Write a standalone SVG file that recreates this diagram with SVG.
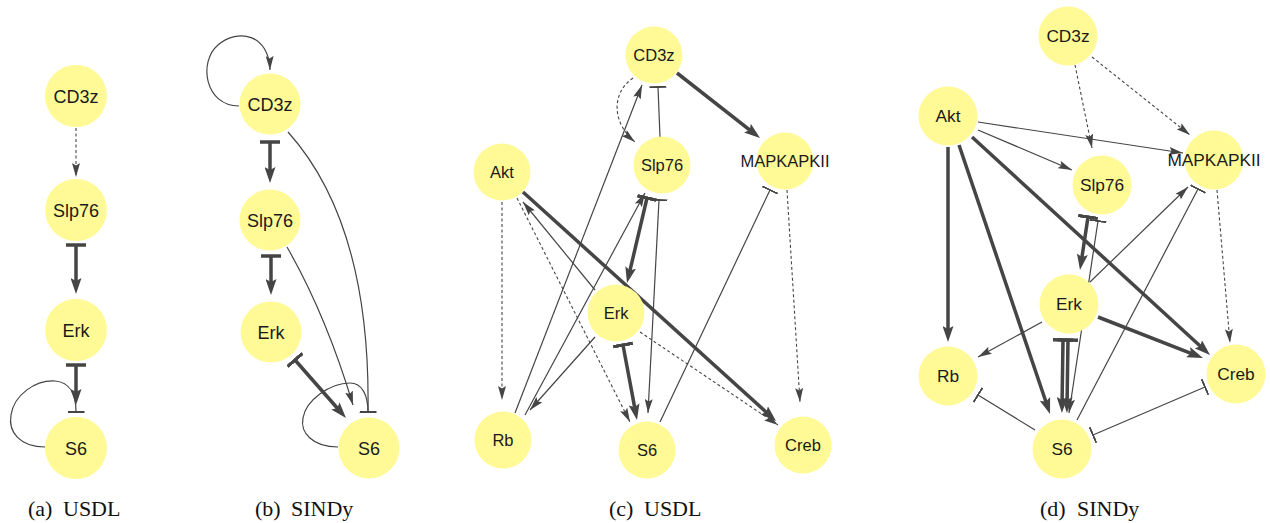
<svg xmlns="http://www.w3.org/2000/svg" width="1270" height="523" viewBox="0 0 1270 523">
  <style>
    .e { fill: none; stroke: #454545; stroke-width: 1.2; }
    .thick { stroke-width: 3.5; }
    .dash { stroke-width: 1.1; stroke-dasharray: 3 2.5; }
    .n circle { fill: #fffa96; }
    .n text { font-family: "Liberation Sans", Arial, sans-serif; text-anchor: middle; fill: #1a1a1a; }
    .pa text, .pb text { font-size: 18px; }
    .pc text { font-size: 16.5px; }
    .pd text { font-size: 17.3px; }
    .cap { font-family: "Liberation Serif", "Times New Roman", serif; font-size: 22px; fill: #111; }
  </style>
  <defs>
    <marker id="arr" markerUnits="userSpaceOnUse" viewBox="0 0 14 8" markerWidth="14" markerHeight="8" refX="14" refY="4" orient="auto">
      <path d="M0,0 L14,4 L0,8 L2.5,4 z" fill="#454545"/>
    </marker>
    <marker id="arrT" markerUnits="userSpaceOnUse" viewBox="0 0 16 11" markerWidth="16" markerHeight="11" refX="10" refY="5.5" orient="auto">
      <path d="M0,0 L16,5.5 L0,11 L3,5.5 z" fill="#454545"/>
    </marker>
    <marker id="tee" markerUnits="userSpaceOnUse" viewBox="0 0 2 17" markerWidth="2" markerHeight="17" refX="1" refY="8.5" orient="auto">
      <rect width="2" height="17" fill="#454545"/>
    </marker>
    <marker id="teeT" markerUnits="userSpaceOnUse" viewBox="0 0 3.5 20" markerWidth="3.5" markerHeight="20" refX="1.75" refY="10" orient="auto">
      <rect width="3.5" height="20" fill="#454545"/>
    </marker>
  </defs>
  <rect width="1270" height="523" fill="#ffffff"/>

  <!-- (a) USDL -->
  <g id="panel-a" class="pa">
    <g id="a-edges">
      <path class="e dash" d="M76,128 L76,177" marker-end="url(#arr)"/>
      <path class="e thick" d="M76,245 L76,288" marker-start="url(#teeT)" marker-end="url(#arrT)"/>
      <path class="e thick" d="M76,365 L76,399" marker-start="url(#teeT)" marker-end="url(#arrT)"/>
      <path class="e" d="M45,447 C20,447 8,432 11,415 C14,395 35,380 55,381 C70,382 76,395 76,412" marker-end="url(#tee)"/>
    </g>
    <g id="a-CD3z" class="n"><circle cx="76" cy="96" r="31"/><text x="76" y="102.5">CD3z</text></g>
    <g id="a-Slp76" class="n"><circle cx="76" cy="210" r="31"/><text x="76" y="216.5">Slp76</text></g>
    <g id="a-Erk" class="n"><circle cx="76" cy="330" r="31"/><text x="76" y="336.5">Erk</text></g>
    <g id="a-S6" class="n"><circle cx="76" cy="448" r="31"/><text x="76" y="454.5">S6</text></g>
  </g>

  <!-- (b) SINDy -->
  <g id="panel-b" class="pb">
    <g id="b-edges">
      <path class="e" d="M239,106 C205,106 198,62 218,45 C238,28 269,34 270,70" marker-end="url(#arr)"/>
      <path class="e thick" d="M270,142 L270,177" marker-start="url(#teeT)" marker-end="url(#arrT)"/>
      <path class="e thick" d="M271,256 L271,289" marker-start="url(#teeT)" marker-end="url(#arrT)"/>
      <path class="e" d="M288,132 C340,190 370,280 368,412" marker-end="url(#tee)"/>
      <path class="e" d="M287,247 Q326,315 353,405" marker-end="url(#arr)"/>
      <path class="e thick" d="M295,360 L342,413.5" marker-start="url(#teeT)" marker-end="url(#arrT)"/>
      <path class="e" d="M338,447 C312,447 300,432 303,418 C306,400 330,383 350,383 C362,383 368,395 368,412" marker-end="url(#tee)"/>
    </g>
    <g id="b-CD3z" class="n"><circle cx="270" cy="104" r="30.5"/><text x="270" y="110.5">CD3z</text></g>
    <g id="b-Slp76" class="n"><circle cx="270" cy="220" r="30.5"/><text x="270" y="226.5">Slp76</text></g>
    <g id="b-Erk" class="n"><circle cx="271" cy="332" r="30.5"/><text x="271" y="338.5">Erk</text></g>
    <g id="b-S6" class="n"><circle cx="369" cy="448" r="30.5"/><text x="369" y="454.5">S6</text></g>
  </g>

  <!-- (c) USDL -->
  <g id="panel-c" class="pc">
    <g id="c-edges">
      <path class="e dash" d="M633,78 C611,93 612,123 635,142" marker-end="url(#arr)"/>
      <path class="e" d="M660,137 L658,87" marker-end="url(#tee)"/>
      <path class="e thick" d="M677,73 L755.3,134.3" marker-end="url(#arrT)"/>
      <path class="e" d="M515,413 L642,85" marker-end="url(#arr)"/>
      <path class="e" d="M525,415 L645,193" marker-end="url(#arr)"/>
      <path class="e thick" d="M647,198 L628.4,277.2" marker-start="url(#teeT)" marker-end="url(#arrT)"/>
      <path class="e" d="M659,200 L648,413" marker-start="url(#tee)" marker-end="url(#arr)"/>
      <path class="e dash" d="M502,202 L502,400" marker-end="url(#arr)"/>
      <path class="e dash" d="M517,198 L630,422" marker-end="url(#arr)"/>
      <path class="e" d="M595,290 L523,202" marker-end="url(#arr)"/>
      <path class="e thick" d="M523,192 L771.6,417" marker-end="url(#arrT)"/>
      <path class="e dash" d="M640,332 L778,425" marker-end="url(#arr)"/>
      <path class="e" d="M595,337 L530,410" marker-end="url(#arr)"/>
      <path class="e thick" d="M623,345 L635.9,414.1" marker-start="url(#teeT)" marker-end="url(#arrT)"/>
      <path class="e" d="M660,422 L770,190" marker-end="url(#tee)"/>
      <path class="e dash" d="M787,190 L800,402" marker-end="url(#arr)"/>
    </g>
    <g id="c-CD3z" class="n"><circle cx="654" cy="55" r="28.5"/><text x="654" y="61">CD3z</text></g>
    <g id="c-Slp76" class="n"><circle cx="662" cy="165" r="28.5"/><text x="662" y="171">Slp76</text></g>
    <g id="c-MAPKAPKII" class="n"><circle cx="785" cy="161" r="28.5"/><text x="785" y="167">MAPKAPKII</text></g>
    <g id="c-Akt" class="n"><circle cx="502" cy="172" r="28.5"/><text x="502" y="178">Akt</text></g>
    <g id="c-Erk" class="n"><circle cx="616" cy="313" r="28.5"/><text x="616" y="319">Erk</text></g>
    <g id="c-Rb" class="n"><circle cx="503" cy="440" r="28.5"/><text x="503" y="446">Rb</text></g>
    <g id="c-S6" class="n"><circle cx="647" cy="450" r="28.5"/><text x="647" y="456">S6</text></g>
    <g id="c-Creb" class="n"><circle cx="803" cy="445" r="28.5"/><text x="803" y="451">Creb</text></g>
  </g>

  <!-- (d) SINDy -->
  <g id="panel-d" class="pd">
    <g id="d-edges">
      <path class="e dash" d="M1075,65 L1092,148" marker-end="url(#arr)"/>
      <path class="e dash" d="M1092,57 L1190,135" marker-end="url(#arr)"/>
      <path class="e" d="M978,122 L1183,153" marker-end="url(#arr)"/>
      <path class="e" d="M978,130 L1072,170" marker-end="url(#arr)"/>
      <path class="e thick" d="M948,147 L948,336" marker-end="url(#arrT)"/>
      <path class="e thick" d="M959,145 L1048.1,408.3" marker-end="url(#arrT)"/>
      <path class="e thick" d="M972,137 L1205.6,351" marker-end="url(#arrT)"/>
      <path class="e thick" d="M1088,217 L1080.9,264.1" marker-start="url(#teeT)" marker-end="url(#arrT)"/>
      <path class="e" d="M1098,221 L1069,413" marker-start="url(#tee)" marker-end="url(#arr)"/>
      <path class="e" d="M1090,282 L1188,187" marker-end="url(#arr)"/>
      <path class="e" d="M1077,420 L1198,189" marker-end="url(#tee)"/>
      <path class="e" d="M1042,322 L978,357" marker-end="url(#arr)"/>
      <path class="e thick" d="M1098,317 L1197.4,355.8" marker-end="url(#arrT)"/>
      <path class="e thick" d="M1063,340 L1062,407" marker-start="url(#teeT)" marker-end="url(#arrT)"/>
      <path class="e thick" d="M1068,340 L1067,407" marker-start="url(#teeT)" marker-end="url(#arrT)"/>
      <path class="e dash" d="M1217,190 L1230,343" marker-end="url(#arr)"/>
      <path class="e" d="M1035,430 L978,395" marker-end="url(#tee)"/>
      <path class="e" d="M1093,435 L1205,387" marker-start="url(#tee)" marker-end="url(#tee)"/>
    </g>
    <g id="d-CD3z" class="n"><circle cx="1068" cy="36" r="29.5"/><text x="1068" y="42.2">CD3z</text></g>
    <g id="d-Akt" class="n"><circle cx="948" cy="116" r="29.5"/><text x="948" y="122.2">Akt</text></g>
    <g id="d-Slp76" class="n"><circle cx="1102" cy="185" r="29.5"/><text x="1102" y="191.2">Slp76</text></g>
    <g id="d-MAPKAPKII" class="n"><circle cx="1214" cy="160" r="29.5"/><text x="1214" y="166.2">MAPKAPKII</text></g>
    <g id="d-Erk" class="n"><circle cx="1069" cy="304" r="29.5"/><text x="1069" y="310.2">Erk</text></g>
    <g id="d-Rb" class="n"><circle cx="948" cy="376" r="29.5"/><text x="948" y="382.2">Rb</text></g>
    <g id="d-Creb" class="n"><circle cx="1236" cy="374" r="29.5"/><text x="1236" y="380.2">Creb</text></g>
    <g id="d-S6" class="n"><circle cx="1062" cy="449" r="29.5"/><text x="1062" y="455.2">S6</text></g>
  </g>

  <!-- sub-figure captions -->
  <g id="captions" class="cap">
    <text x="28" y="516">(a)<tspan x="63">USDL</tspan></text>
    <text x="255" y="516">(b)<tspan x="291">SINDy</tspan></text>
    <text x="609" y="516">(c)<tspan x="644">USDL</tspan></text>
    <text x="1040" y="516">(d)<tspan x="1077">SINDy</tspan></text>
  </g>
</svg>
